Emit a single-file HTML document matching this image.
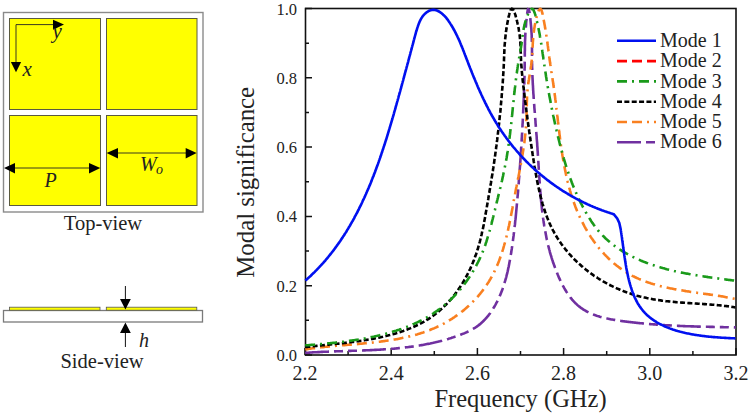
<!DOCTYPE html>
<html><head><meta charset="utf-8">
<style>
html,body{margin:0;padding:0;background:#fff;}
body{width:751px;height:415px;overflow:hidden;}
svg{display:block;}
text{font-family:"Liberation Serif",serif;fill:#222;}
.tl{font-size:20px;}
.yl{font-size:16.5px;}
.lg{font-size:20px;}
.ax{font-size:24.5px;}
.cap{font-size:20.5px;}
.it{font-style:italic;font-size:20px;}
</style></head><body>
<svg width="751" height="415" viewBox="0 0 751 415">
<!-- top view -->
<rect x="3.5" y="12.5" width="199.5" height="199.5" fill="none" stroke="#8a8a8a" stroke-width="1.4"/>
<g fill="#ffff00" stroke="#5a5a40" stroke-width="1">
<rect x="9.5" y="18.5" width="91" height="91"/>
<rect x="106.5" y="18.5" width="90.5" height="91"/>
<rect x="9.5" y="115.5" width="91" height="90"/>
<rect x="106.5" y="115.5" width="90.5" height="90"/>
</g>
<g stroke="#222" stroke-width="0.9" fill="none">
<path d="M16,24.6 H54 M16,24.6 V63"/>
<path d="M14,168 H90 M117,153 H186"/>
</g>
<g fill="#000">
<path d="M53,19.7 L64,24.6 L53,29.8 Z"/>
<path d="M10.9,62 L16,72.3 L21.1,62 Z"/>
<path d="M4,168 L15,162.9 L15,173.5 Z"/>
<path d="M100.3,168 L89,162.9 L89,173.5 Z"/>
<path d="M106.6,153 L118,147.9 L118,158.5 Z"/>
<path d="M196.6,153 L185.7,147.9 L185.7,158.5 Z"/>
</g>
<text x="52.5" y="38.3" class="it" style="font-size:21px">y</text>
<text x="22.5" y="75.8" class="it" style="font-size:21px">x</text>
<text x="44.5" y="186.5" class="it">P</text>
<text x="140" y="171" class="it">W</text>
<text x="156" y="173.8" class="it" style="font-size:14px">o</text>
<text x="103" y="230" text-anchor="middle" class="cap">Top-view</text>
<!-- side view -->
<rect x="3.5" y="310.5" width="199" height="11.5" fill="none" stroke="#7a7a7a" stroke-width="1.3"/>
<g fill="#ffff00" stroke="#555" stroke-width="0.8">
<rect x="9.5" y="307.2" width="90.5" height="3"/>
<rect x="106.3" y="307.2" width="90.5" height="3"/>
</g>
<path d="M125.4,286 V300 M125.4,333 V347" stroke="#111" stroke-width="1" fill="none"/>
<path d="M120,299 L130.8,299 L125.4,309.6 Z M120,333 L130.8,333 L125.4,322.6 Z" fill="#000"/>
<text x="139" y="347" class="it">h</text>
<text x="102" y="367.5" text-anchor="middle" class="cap">Side-view</text>
<!-- chart -->
<rect x="305.5" y="8.5" width="430.5" height="346.5" fill="none" stroke="#111" stroke-width="1.6"/>
<path d="M305.00,355.00 V348.00 M348.10,355.00 V351.00 M391.20,355.00 V348.00 M434.30,355.00 V351.00 M477.40,355.00 V348.00 M520.50,355.00 V351.00 M563.60,355.00 V348.00 M606.70,355.00 V351.00 M649.80,355.00 V348.00 M692.90,355.00 V351.00 M736.00,355.00 V348.00 M305.00,355.00 H312.00 M305.00,320.35 H309.00 M305.00,285.70 H312.00 M305.00,251.05 H309.00 M305.00,216.40 H312.00 M305.00,181.75 H309.00 M305.00,147.10 H312.00 M305.00,112.45 H309.00 M305.00,77.80 H312.00 M305.00,43.15 H309.00 M305.00,8.50 H312.00" stroke="#111" stroke-width="1.5" fill="none"/>
<text x="305.00" y="380" text-anchor="middle" class="tl">2.2</text><text x="391.20" y="380" text-anchor="middle" class="tl">2.4</text><text x="477.40" y="380" text-anchor="middle" class="tl">2.6</text><text x="563.60" y="380" text-anchor="middle" class="tl">2.8</text><text x="649.80" y="380" text-anchor="middle" class="tl">3.0</text><text x="736.00" y="380" text-anchor="middle" class="tl">3.2</text>
<text x="297" y="361.00" text-anchor="end" class="yl">0.0</text><text x="297" y="291.70" text-anchor="end" class="yl">0.2</text><text x="297" y="222.40" text-anchor="end" class="yl">0.4</text><text x="297" y="153.10" text-anchor="end" class="yl">0.6</text><text x="297" y="83.80" text-anchor="end" class="yl">0.8</text><text x="297" y="14.50" text-anchor="end" class="yl">1.0</text>
<text x="520.5" y="407" text-anchor="middle" class="ax">Frequency (GHz)</text>
<text transform="translate(253.5,182.3) rotate(-90)" text-anchor="middle" class="ax" style="font-size:24.8px">Modal significance</text>
<g fill="none" stroke-width="2.6">
<path d="M305.1,352.9 306.1,352.8 307.2,352.8 308.3,352.7 309.4,352.6 310.4,352.5 311.5,352.5 312.6,352.4 313.7,352.3 314.8,352.3 315.8,352.2 316.9,352.2 318.0,352.1 319.1,352.1 320.2,352.0 321.3,351.9 322.4,351.9 323.4,351.8 324.5,351.8 325.6,351.8 326.7,351.7 327.8,351.7 328.9,351.6 330.0,351.6 331.1,351.5 332.2,351.5 333.2,351.5 334.3,351.4 335.4,351.4 336.5,351.3 337.6,351.3 338.7,351.3 339.8,351.2 340.9,351.2 342.0,351.2 343.1,351.1 344.2,351.1 345.3,351.1 346.4,351.0 347.5,351.0 348.6,350.9 349.7,350.9 350.8,350.9 351.9,350.8 353.0,350.8 354.1,350.8 355.1,350.7 356.2,350.7 357.3,350.7 358.4,350.6 359.5,350.6 360.6,350.5 361.7,350.5 362.8,350.5 363.9,350.4 365.0,350.4 366.1,350.3 367.2,350.3 368.3,350.2 369.4,350.2 370.5,350.1 371.6,350.1 372.7,350.0 373.8,350.0 374.9,349.9 376.0,349.9 377.1,349.8 378.2,349.7 379.3,349.7 380.4,349.6 381.5,349.5 382.6,349.5 383.7,349.4 384.8,349.3 385.9,349.2 387.0,349.2 388.1,349.1 389.1,349.0 390.2,348.9 391.3,348.8 392.4,348.7 393.5,348.7 394.6,348.6 395.7,348.5 396.8,348.4 397.9,348.3 399.0,348.1 400.1,348.0 401.1,347.9 402.2,347.8 403.3,347.7 404.4,347.6 405.5,347.4 406.6,347.3 407.7,347.2 408.7,347.0 409.8,346.9 410.9,346.8 412.0,346.6 413.1,346.5 414.1,346.3 415.2,346.1 416.3,346.0 417.4,345.8 418.4,345.6 419.5,345.5 420.6,345.3 421.7,345.1 422.7,344.9 423.8,344.7 424.9,344.5 426.0,344.3 427.0,344.1 428.1,343.9 429.2,343.7 430.2,343.5 431.3,343.2 432.4,343.0 433.4,342.8 434.5,342.5 435.5,342.3 436.6,342.0 437.7,341.8 438.7,341.5 439.8,341.3 440.8,341.0 441.9,340.7 442.9,340.4 444.0,340.1 445.0,339.8 446.1,339.5 447.1,339.2 448.2,338.9 449.2,338.6 450.3,338.3 451.3,338.0 452.3,337.6 453.4,337.3 454.4,336.9 455.4,336.6 456.5,336.2 457.5,335.9 458.5,335.5 459.6,335.1 460.6,334.7 461.6,334.3 462.6,333.9 463.7,333.5 464.7,333.1 465.7,332.6 466.7,332.2 467.7,331.7 468.6,331.3 469.6,330.8 470.6,330.3 471.6,329.8 472.5,329.2 473.4,328.7 474.4,328.1 475.3,327.6 476.2,327.0 477.1,326.4 477.9,325.7 478.8,325.1 479.7,324.4 480.5,323.7 481.3,323.0 482.1,322.3 482.9,321.5 483.7,320.8 484.4,320.0 485.2,319.2 485.9,318.4 486.6,317.6 487.4,316.7 488.1,315.9 488.7,315.0 489.4,314.2 490.1,313.3 490.7,312.4 491.3,311.5 491.9,310.5 492.6,309.6 493.1,308.7 493.7,307.7 494.3,306.8 494.8,305.8 495.4,304.8 495.9,303.9 496.4,302.9 497.0,301.9 497.5,300.9 497.9,299.9 498.4,298.9 498.9,297.9 499.3,296.9 499.8,295.9 500.2,294.9 500.6,293.9 501.0,292.9 501.4,291.9 501.8,290.9 502.2,289.9 502.6,288.9 502.9,287.8 503.3,286.8 503.6,285.8 504.0,284.8 504.3,283.7 504.6,282.7 504.9,281.7 505.2,280.7 505.5,279.6 505.8,278.6 506.1,277.6 506.4,276.5 506.6,275.5 506.9,274.4 507.2,273.4 507.4,272.3 507.7,271.3 507.9,270.2 508.1,269.2 508.3,268.1 508.6,267.1 508.8,266.0 509.0,265.0 509.2,263.9 509.4,262.8 509.6,261.8 509.8,260.7 510.0,259.7 510.2,258.6 510.4,257.5 510.6,256.4 510.7,255.4 510.9,254.3 511.1,253.2 511.3,252.1 511.4,251.1 511.6,250.0 511.8,248.9 511.9,247.8 512.1,246.8 512.2,245.7 512.4,244.6 512.6,243.5 512.7,242.4 512.9,241.3 513.0,240.2 513.1,239.1 513.3,238.1 513.4,237.0 513.6,235.9 513.7,234.8 513.8,233.7 514.0,232.6 514.1,231.5 514.2,230.4 514.4,229.3 514.5,228.2 514.6,227.1 514.7,226.0 514.9,224.9 515.0,223.8 515.1,222.7 515.2,221.6 515.3,220.5 515.5,219.4 515.6,218.4 515.7,217.3 515.8,216.2 515.9,215.1 516.0,214.0 516.1,212.9 516.2,211.8 516.3,210.7 516.4,209.6 516.5,208.5 516.6,207.4 516.7,206.3 516.8,205.2 516.9,204.1 517.0,203.0 517.1,201.9 517.2,200.8 517.3,199.7 517.4,198.6 517.5,197.5 517.6,196.4 517.7,195.4 517.8,194.3 517.9,193.2 518.0,192.1 518.1,191.0 518.1,189.9 518.2,188.8 518.3,187.8 518.4,186.7 518.5,185.6 518.6,184.5 518.7,183.4 518.8,182.3 518.8,181.3 518.9,180.2 519.0,179.1 519.1,178.0 519.2,176.9 519.3,175.9 519.3,174.8 519.4,173.7 519.5,172.6 519.6,171.5 519.7,170.5 519.7,169.4 519.8,168.3 519.9,167.2 520.0,166.2 520.1,165.1 520.1,164.0 520.2,162.9 520.3,161.8 520.4,160.8 520.4,159.7 520.5,158.6 520.6,157.5 520.6,156.4 520.7,155.4 520.8,154.3 520.9,153.2 520.9,152.1 521.0,151.0 521.1,149.9 521.1,148.9 521.2,147.8 521.3,146.7 521.3,145.6 521.4,144.5 521.5,143.4 521.5,142.3 521.6,141.3 521.7,140.2 521.7,139.1 521.8,138.0 521.9,136.9 521.9,135.8 522.0,134.7 522.1,133.6 522.1,132.5 522.2,131.4 522.2,130.3 522.3,129.2 522.4,128.1 522.4,127.0 522.5,125.9 522.5,124.8 522.6,123.7 522.7,122.6 522.7,121.5 522.8,120.4 522.8,119.3 522.9,118.1 522.9,117.0 523.0,115.9 523.0,114.8 523.1,113.7 523.1,112.6 523.2,111.4 523.2,110.3 523.3,109.2 523.3,108.1 523.4,107.0 523.4,105.8 523.5,104.7 523.5,103.6 523.6,102.5 523.6,101.4 523.7,100.2 523.7,99.1 523.8,98.0 523.8,96.9 523.9,95.8 523.9,94.6 523.9,93.5 524.0,92.4 524.0,91.3 524.1,90.2 524.1,89.1 524.1,88.0 524.2,86.9 524.2,85.8 524.2,84.7 524.3,83.6 524.3,82.5 524.3,81.4 524.4,80.3 524.4,79.2 524.4,78.1 524.5,77.1 524.5,76.0 524.5,74.9 524.5,73.8 524.6,72.8 524.6,71.7 524.6,70.6 524.6,69.6 524.6,68.5 524.7,67.5 524.7,66.5 524.7,65.4 524.7,64.4 524.7,63.4 524.7,62.3 524.8,61.3 524.8,60.3 524.8,59.3 524.8,58.3 524.8,57.3 524.8,56.2 524.8,55.1 524.8,54.0 524.8,52.9 524.8,51.8 524.9,50.6 524.9,49.6 524.9,48.6 524.9,47.6 524.9,46.6 524.9,45.6 525.0,44.6 525.0,43.5 525.0,42.5 525.0,41.4 525.1,40.3 525.1,39.3 525.2,38.2 525.2,37.1 525.3,35.9 525.3,34.9 525.4,33.9 525.4,32.9 525.5,31.8 525.6,30.7 525.6,29.7 525.7,28.6 525.8,27.5 525.9,26.3 526.0,25.3 526.1,24.3 526.1,23.3 526.2,22.2 526.3,21.1 526.5,20.1 526.6,19.0 526.7,17.9 526.8,16.8 526.9,15.7 527.1,14.6 527.2,13.6 527.3,12.5 527.5,11.4 527.7,10.4 528.0,9.4 528.9,9.8 529.2,10.8 529.4,11.8 529.6,12.8 529.7,13.9 529.9,14.9 530.0,16.0 530.2,17.1 530.3,18.2 530.4,19.3 530.5,20.4 530.6,21.4 530.7,22.5 530.8,23.5 530.9,24.6 531.0,25.6 531.1,26.6 531.2,27.7 531.3,28.8 531.4,29.9 531.4,31.0 531.5,32.1 531.6,33.1 531.6,34.2 531.7,35.2 531.7,36.2 531.7,37.2 531.8,38.4 531.8,39.5 531.8,40.6 531.9,41.6 531.9,42.7 531.9,43.8 531.9,44.8 531.9,45.9 531.9,46.9 532.0,47.9 532.0,48.9 532.0,50.0 532.0,51.0 532.0,52.0 532.0,53.0 532.0,54.0 532.0,55.0 532.0,56.1 532.0,57.2 532.0,58.2 532.0,59.2 532.0,60.2 532.0,61.2 532.0,62.2 532.0,63.2 532.1,64.3 532.1,65.3 532.1,66.3 532.1,67.3 532.2,68.4 532.2,69.4 532.2,70.4 532.3,71.5 532.3,72.5 532.3,73.5 532.4,74.6 532.4,75.6 532.5,76.7 532.5,77.8 532.6,78.8 532.6,79.9 532.7,80.9 532.7,82.0 532.8,83.1 532.8,84.1 532.9,85.2 533.0,86.3 533.0,87.3 533.1,88.4 533.1,89.5 533.2,90.6 533.3,91.7 533.3,92.8 533.4,93.8 533.5,94.9 533.6,96.0 533.6,97.1 533.7,98.2 533.8,99.3 533.9,100.4 533.9,101.5 534.0,102.6 534.1,103.7 534.2,104.8 534.3,105.9 534.3,107.0 534.4,108.1 534.5,109.2 534.6,110.3 534.7,111.4 534.8,112.5 534.8,113.7 534.9,114.8 535.0,115.9 535.1,117.0 535.2,118.1 535.3,119.2 535.4,120.3 535.5,121.5 535.5,122.6 535.6,123.7 535.7,124.8 535.8,125.9 535.9,127.0 536.0,128.2 536.1,129.3 536.1,130.4 536.2,131.5 536.3,132.6 536.4,133.8 536.5,134.9 536.6,136.0 536.7,137.1 536.7,138.2 536.8,139.4 536.9,140.5 537.0,141.6 537.1,142.7 537.2,143.8 537.2,144.9 537.3,146.1 537.4,147.2 537.5,148.3 537.5,149.4 537.6,150.5 537.7,151.6 537.8,152.8 537.8,153.9 537.9,155.0 538.0,156.1 538.1,157.2 538.1,158.3 538.2,159.4 538.3,160.5 538.3,161.6 538.4,162.7 538.5,163.8 538.5,165.0 538.6,166.1 538.7,167.2 538.7,168.3 538.8,169.4 538.9,170.5 538.9,171.6 539.0,172.7 539.1,173.8 539.2,174.9 539.2,176.0 539.3,177.1 539.4,178.2 539.4,179.3 539.5,180.4 539.6,181.4 539.7,182.5 539.7,183.6 539.8,184.7 539.9,185.8 540.0,186.9 540.0,188.0 540.1,189.1 540.2,190.2 540.3,191.3 540.4,192.4 540.5,193.4 540.6,194.5 540.7,195.6 540.7,196.7 540.8,197.8 540.9,198.9 541.0,199.9 541.1,201.0 541.2,202.1 541.4,203.2 541.5,204.3 541.6,205.3 541.7,206.4 541.8,207.5 541.9,208.6 542.0,209.7 542.2,210.7 542.3,211.8 542.4,212.9 542.6,214.0 542.7,215.0 542.8,216.1 543.0,217.2 543.1,218.2 543.3,219.3 543.4,220.4 543.6,221.4 543.7,222.5 543.9,223.6 544.1,224.6 544.2,225.7 544.4,226.8 544.6,227.8 544.8,228.9 545.0,230.0 545.2,231.0 545.4,232.1 545.6,233.1 545.8,234.2 546.0,235.2 546.2,236.3 546.4,237.4 546.6,238.4 546.8,239.5 547.1,240.5 547.3,241.6 547.5,242.6 547.8,243.7 548.0,244.7 548.3,245.8 548.6,246.8 548.8,247.9 549.1,248.9 549.4,250.0 549.7,251.0 549.9,252.1 550.2,253.1 550.5,254.1 550.8,255.2 551.2,256.2 551.5,257.3 551.8,258.3 552.1,259.4 552.5,260.4 552.8,261.4 553.1,262.5 553.5,263.5 553.9,264.5 554.2,265.6 554.6,266.6 555.0,267.6 555.4,268.7 555.8,269.7 556.2,270.7 556.6,271.8 557.0,272.8 557.4,273.8 557.8,274.8 558.3,275.9 558.7,276.9 559.1,277.9 559.6,278.9 560.1,280.0 560.5,281.0 561.0,282.0 561.5,283.0 562.0,284.0 562.5,285.0 563.0,285.9 563.6,286.9 564.1,287.9 564.7,288.8 565.2,289.8 565.8,290.7 566.4,291.7 567.0,292.6 567.6,293.5 568.2,294.4 568.8,295.3 569.4,296.2 570.1,297.0 570.7,297.9 571.4,298.7 572.1,299.6 572.8,300.4 573.5,301.2 574.2,301.9 574.9,302.7 575.7,303.4 576.5,304.2 577.2,304.9 578.0,305.6 578.8,306.2 579.7,306.9 580.5,307.5 581.3,308.2 582.2,308.7 583.1,309.3 584.0,309.9 584.9,310.4 585.8,310.9 586.7,311.5 587.6,311.9 588.6,312.4 589.6,312.9 590.5,313.3 591.5,313.7 592.5,314.2 593.5,314.6 594.5,314.9 595.5,315.3 596.6,315.7 597.6,316.0 598.7,316.3 599.7,316.7 600.8,317.0 601.8,317.3 602.9,317.5 604.0,317.8 605.1,318.1 606.2,318.3 607.3,318.6 608.3,318.8 609.3,319.0 610.3,319.2 611.3,319.4 612.3,319.6 613.3,319.8 614.3,319.9 615.3,320.1 616.3,320.3 617.3,320.4 618.3,320.6 619.2,320.7 620.2,320.8 621.2,321.0 622.2,321.1 623.2,321.3 624.2,321.4 625.2,321.5 626.2,321.6 627.2,321.8 628.2,321.9 629.3,322.0 630.5,322.1 631.6,322.3 632.7,322.4 633.8,322.5 634.9,322.6 636.0,322.8 637.1,322.9 638.2,323.0 639.3,323.1 640.4,323.2 641.5,323.3 642.6,323.4 643.7,323.5 644.8,323.6 645.9,323.7 647.0,323.8 648.0,323.9 649.1,324.0 650.2,324.1 651.3,324.2 652.4,324.3 653.5,324.4 654.6,324.4 655.6,324.5 656.7,324.6 657.8,324.7 658.9,324.8 660.0,324.8 661.0,324.9 662.1,325.0 663.2,325.0 664.3,325.1 665.4,325.2 666.4,325.2 667.5,325.3 668.6,325.4 669.7,325.4 670.7,325.5 671.8,325.5 672.9,325.6 674.0,325.7 675.0,325.7 676.1,325.8 677.2,325.8 678.3,325.9 679.3,325.9 680.4,326.0 681.5,326.0 682.5,326.0 683.6,326.1 684.7,326.1 685.8,326.2 686.9,326.2 687.9,326.3 689.0,326.3 690.1,326.3 691.2,326.4 692.2,326.4 693.3,326.4 694.4,326.5 695.5,326.5 696.6,326.5 697.6,326.6 698.7,326.6 699.8,326.6 700.9,326.7 702.0,326.7 703.1,326.7 704.1,326.7 705.2,326.8 706.3,326.8 707.4,326.8 708.5,326.8 709.6,326.9 710.7,326.9 711.8,326.9 712.9,326.9 714.0,327.0 715.1,327.0 716.2,327.0 717.3,327.0 718.4,327.0 719.5,327.1 720.6,327.1 721.7,327.1 722.8,327.1 723.9,327.2 725.1,327.2 726.2,327.2 727.3,327.2 728.4,327.2 729.5,327.3 730.5,327.3 731.5,327.3 732.5,327.3 733.5,327.3 734.6,327.4 735.6,327.4 735.7,327.4" stroke="#7030a0" stroke-dasharray="24 5 9 5 9 5"/>
<path d="M305.2,349.4 306.3,349.2 307.3,349.1 308.3,348.9 309.4,348.8 310.4,348.6 311.5,348.5 312.5,348.3 313.6,348.2 314.7,348.1 315.7,347.9 316.8,347.8 317.9,347.7 318.9,347.5 320.0,347.4 321.1,347.3 322.2,347.2 323.2,347.1 324.3,346.9 325.4,346.8 326.5,346.7 327.6,346.6 328.7,346.5 329.8,346.4 330.8,346.3 331.9,346.2 333.0,346.1 334.1,346.0 335.2,345.9 336.3,345.8 337.4,345.7 338.5,345.6 339.6,345.5 340.7,345.4 341.9,345.3 342.8,345.2 343.8,345.2 344.8,345.1 345.8,345.0 346.8,344.9 347.8,344.8 348.8,344.7 349.8,344.7 350.9,344.6 351.9,344.5 352.9,344.4 353.9,344.3 354.9,344.2 355.9,344.1 356.9,344.1 357.9,344.0 358.9,343.9 359.9,343.8 360.9,343.7 361.9,343.6 362.9,343.5 363.9,343.4 364.9,343.3 365.9,343.2 366.9,343.1 368.0,343.0 369.0,342.9 370.0,342.8 371.0,342.7 372.0,342.6 373.0,342.5 374.0,342.4 375.0,342.3 376.0,342.1 377.0,342.0 378.0,341.9 379.0,341.8 380.0,341.7 381.0,341.5 382.0,341.4 383.0,341.3 384.0,341.1 385.0,341.0 386.0,340.8 387.0,340.7 388.0,340.5 389.0,340.4 390.0,340.2 391.0,340.1 392.0,339.9 393.0,339.8 394.0,339.6 395.0,339.4 395.9,339.2 396.9,339.1 397.9,338.9 398.9,338.7 399.9,338.5 400.9,338.3 401.9,338.1 403.0,337.8 404.1,337.6 405.2,337.4 406.3,337.1 407.4,336.9 408.4,336.6 409.5,336.4 410.6,336.1 411.6,335.8 412.7,335.5 413.8,335.3 414.8,335.0 415.9,334.7 417.0,334.4 418.0,334.1 419.1,333.7 420.1,333.4 421.2,333.1 422.2,332.7 423.2,332.4 424.3,332.0 425.3,331.7 426.3,331.3 427.4,330.9 428.4,330.5 429.4,330.2 430.4,329.8 431.5,329.3 432.5,328.9 433.5,328.5 434.5,328.1 435.5,327.6 436.5,327.2 437.5,326.7 438.5,326.3 439.4,325.8 440.4,325.3 441.4,324.8 442.4,324.3 443.3,323.8 444.3,323.3 445.3,322.7 446.2,322.2 447.2,321.7 448.1,321.1 449.1,320.5 450.0,320.0 450.9,319.4 451.9,318.8 452.8,318.2 453.7,317.6 454.6,317.0 455.5,316.3 456.4,315.7 457.3,315.1 458.2,314.4 459.1,313.8 460.0,313.1 460.9,312.4 461.7,311.7 462.6,311.1 463.5,310.4 464.3,309.7 465.2,308.9 466.0,308.2 466.8,307.5 467.6,306.8 468.5,306.0 469.3,305.3 470.1,304.5 470.9,303.8 471.7,303.0 472.4,302.2 473.2,301.4 474.0,300.6 474.8,299.8 475.5,299.0 476.2,298.2 477.0,297.4 477.7,296.6 478.4,295.8 479.1,294.9 479.9,294.1 480.5,293.2 481.2,292.4 481.9,291.5 482.6,290.7 483.2,289.8 483.9,288.9 484.5,288.0 485.2,287.1 485.8,286.2 486.4,285.3 487.0,284.4 487.6,283.5 488.2,282.6 488.8,281.7 489.4,280.7 489.9,279.8 490.5,278.9 491.0,277.9 491.6,277.0 492.1,276.0 492.6,275.1 493.1,274.1 493.6,273.1 494.1,272.1 494.6,271.2 495.0,270.2 495.5,269.2 495.9,268.2 496.4,267.2 496.8,266.2 497.3,265.2 497.7,264.2 498.1,263.2 498.5,262.2 498.9,261.2 499.3,260.1 499.7,259.1 500.1,258.1 500.4,257.0 500.8,256.0 501.2,255.0 501.5,253.9 501.9,252.9 502.2,251.8 502.5,250.8 502.9,249.7 503.2,248.7 503.5,247.6 503.8,246.5 504.1,245.5 504.4,244.4 504.7,243.3 505.0,242.4 505.3,241.4 505.5,240.4 505.8,239.5 506.0,238.5 506.3,237.5 506.5,236.6 506.7,235.6 507.0,234.6 507.2,233.6 507.4,232.6 507.7,231.7 507.9,230.7 508.1,229.7 508.3,228.7 508.5,227.7 508.7,226.7 509.0,225.8 509.2,224.8 509.4,223.8 509.6,222.8 509.8,221.8 510.0,220.8 510.2,219.8 510.4,218.8 510.6,217.8 510.8,216.8 511.0,215.9 511.1,214.9 511.3,213.9 511.5,212.9 511.7,211.9 511.9,210.9 512.1,209.9 512.3,208.9 512.5,207.9 512.6,206.9 512.8,205.9 513.0,205.0 513.2,204.0 513.4,203.0 513.6,202.0 513.7,201.0 513.9,200.0 514.1,199.0 514.3,198.0 514.5,197.1 514.7,196.1 514.9,195.0 515.1,193.9 515.3,192.8 515.5,191.7 515.7,190.6 515.9,189.5 516.1,188.5 516.3,187.4 516.6,186.3 516.8,185.2 517.0,184.1 517.2,183.1 517.4,182.0 517.6,180.9 517.8,179.8 518.0,178.8 518.2,177.7 518.5,176.6 518.7,175.5 518.9,174.5 519.1,173.4 519.3,172.3 519.5,171.2 519.7,170.2 519.9,169.1 520.1,168.0 520.3,167.0 520.5,165.9 520.7,164.8 520.9,163.7 521.1,162.7 521.3,161.6 521.5,160.5 521.7,159.5 521.9,158.4 522.0,157.3 522.2,156.2 522.4,155.2 522.6,154.1 522.8,153.0 522.9,151.9 523.1,150.9 523.3,149.8 523.4,148.7 523.6,147.6 523.8,146.6 523.9,145.5 524.1,144.4 524.2,143.3 524.4,142.2 524.5,141.2 524.6,140.1 524.8,139.0 524.9,137.9 525.0,136.8 525.1,135.7 525.3,134.6 525.4,133.5 525.5,132.4 525.6,131.4 525.7,130.3 525.8,129.2 525.9,128.1 525.9,127.0 526.0,125.9 526.1,124.7 526.2,123.6 526.2,122.5 526.3,121.5 526.3,120.5 526.4,119.5 526.4,118.5 526.5,117.5 526.5,116.5 526.5,115.5 526.5,114.5 526.6,113.5 526.6,112.5 526.6,111.5 526.6,110.4 526.7,109.4 526.7,108.4 526.7,107.4 526.7,106.4 526.8,105.4 526.8,104.4 526.8,103.3 526.8,102.3 526.9,101.3 526.9,100.3 527.0,99.3 527.0,98.3 527.0,97.2 527.1,96.2 527.2,95.2 527.2,94.2 527.3,93.2 527.4,92.2 527.5,91.2 527.5,90.2 527.6,89.2 527.8,88.1 527.9,87.1 528.0,86.1 528.1,85.1 528.2,84.1 528.4,83.1 528.5,82.1 528.7,81.1 528.8,80.2 529.0,79.2 529.1,78.1 529.3,77.0 529.5,75.9 529.7,74.8 529.9,73.7 530.0,72.6 530.2,71.6 530.4,70.5 530.5,69.4 530.7,68.4 530.9,67.3 531.0,66.2 531.2,65.2 531.3,64.1 531.5,63.1 531.6,62.1 531.7,61.0 531.8,60.0 531.9,59.0 532.0,58.0 532.1,56.9 532.2,55.9 532.2,54.9 532.3,53.9 532.3,52.9 532.4,51.9 532.4,50.9 532.5,49.9 532.5,48.8 532.6,47.8 532.6,46.8 532.7,45.8 532.7,44.7 532.8,43.7 532.8,42.6 532.9,41.6 533.0,40.5 533.1,39.4 533.1,38.3 533.2,37.2 533.3,36.2 533.4,35.2 533.5,34.1 533.6,33.1 533.8,32.0 533.9,31.0 534.1,29.9 534.2,28.8 534.4,27.8 534.6,26.8 534.7,25.8 534.9,24.7 535.1,23.7 535.3,22.6 535.6,21.6 535.8,20.5 536.1,19.4 536.3,18.4 536.5,17.4 536.8,16.4 537.1,15.4 537.4,14.3 537.7,13.3 538.1,12.3 538.4,11.3 538.9,10.3 539.4,9.5 540.2,8.8 541.0,9.4 541.5,10.4 541.9,11.4 542.1,12.4 542.4,13.4 542.7,14.5 542.9,15.5 543.1,16.6 543.3,17.7 543.5,18.7 543.7,19.9 543.9,21.0 544.1,22.0 544.3,23.1 544.5,24.2 544.7,25.2 544.9,26.2 545.0,27.3 545.2,28.2 545.4,29.4 545.6,30.5 545.7,31.5 545.9,32.6 546.1,33.6 546.2,34.7 546.4,35.7 546.5,36.7 546.7,37.7 546.8,38.8 547.0,39.9 547.1,41.0 547.3,42.0 547.4,43.1 547.6,44.1 547.7,45.2 547.9,46.2 548.0,47.2 548.1,48.2 548.3,49.2 548.4,50.2 548.5,51.2 548.7,52.2 548.8,53.2 548.9,54.2 549.1,55.2 549.2,56.2 549.3,57.2 549.5,58.2 549.6,59.3 549.7,60.3 549.9,61.3 550.0,62.3 550.2,63.3 550.3,64.4 550.5,65.4 550.6,66.5 550.8,67.5 551.0,68.6 551.1,69.6 551.3,70.7 551.4,71.7 551.6,72.8 551.8,73.9 551.9,74.9 552.1,76.0 552.3,77.1 552.4,78.2 552.6,79.3 552.7,80.3 552.9,81.4 553.1,82.5 553.2,83.6 553.4,84.7 553.5,85.8 553.7,86.9 553.9,88.0 554.0,89.1 554.2,90.2 554.3,91.3 554.4,92.3 554.6,93.3 554.7,94.3 554.8,95.3 555.0,96.3 555.1,97.3 555.2,98.2 555.3,99.2 555.5,100.2 555.6,101.2 555.7,102.2 555.8,103.2 556.0,104.2 556.1,105.2 556.2,106.2 556.3,107.2 556.4,108.2 556.5,109.2 556.7,110.2 556.8,111.2 556.9,112.2 557.0,113.2 557.1,114.2 557.2,115.2 557.4,116.2 557.5,117.2 557.6,118.2 557.7,119.2 557.8,120.2 557.9,121.2 558.1,122.2 558.2,123.2 558.3,124.2 558.4,125.2 558.5,126.2 558.7,127.2 558.8,128.2 558.9,129.2 559.0,130.3 559.1,131.3 559.3,132.3 559.4,133.3 559.5,134.3 559.6,135.3 559.8,136.3 559.9,137.3 560.0,138.3 560.1,139.3 560.3,140.3 560.4,141.2 560.5,142.2 560.7,143.2 560.8,144.2 560.9,145.2 561.1,146.2 561.2,147.2 561.4,148.2 561.5,149.2 561.7,150.2 561.8,151.2 562.0,152.2 562.1,153.2 562.3,154.2 562.4,155.2 562.6,156.2 562.8,157.2 562.9,158.1 563.1,159.1 563.2,160.1 563.4,161.1 563.6,162.1 563.8,163.1 564.0,164.2 564.2,165.3 564.4,166.4 564.6,167.4 564.8,168.5 565.0,169.6 565.2,170.7 565.5,171.8 565.7,172.9 565.9,174.0 566.1,175.0 566.4,176.1 566.6,177.2 566.9,178.3 567.1,179.3 567.4,180.4 567.6,181.5 567.9,182.6 568.2,183.6 568.4,184.7 568.7,185.8 569.0,186.8 569.3,187.9 569.6,188.9 569.9,190.0 570.2,191.1 570.5,192.1 570.8,193.2 571.1,194.2 571.5,195.3 571.8,196.3 572.1,197.4 572.5,198.4 572.8,199.4 573.2,200.5 573.5,201.5 573.9,202.5 574.3,203.6 574.6,204.6 575.0,205.6 575.4,206.7 575.8,207.7 576.2,208.7 576.6,209.7 577.0,210.7 577.5,211.8 577.9,212.8 578.3,213.8 578.8,214.8 579.2,215.8 579.7,216.8 580.1,217.8 580.6,218.8 581.1,219.8 581.6,220.8 582.1,221.8 582.6,222.7 583.1,223.7 583.6,224.7 584.1,225.7 584.6,226.6 585.2,227.6 585.7,228.6 586.3,229.5 586.8,230.5 587.4,231.4 588.0,232.4 588.5,233.3 589.1,234.3 589.7,235.2 590.3,236.1 590.9,237.1 591.5,238.0 592.2,238.9 592.8,239.8 593.4,240.7 594.1,241.6 594.7,242.5 595.4,243.4 596.0,244.3 596.7,245.1 597.4,246.0 598.1,246.9 598.7,247.7 599.4,248.6 600.1,249.4 600.9,250.3 601.6,251.1 602.3,251.9 603.0,252.7 603.8,253.5 604.5,254.3 605.3,255.1 606.0,255.9 606.8,256.7 607.6,257.5 608.3,258.3 609.1,259.0 609.9,259.8 610.7,260.5 611.5,261.2 612.3,262.0 613.2,262.7 614.0,263.4 614.8,264.1 615.7,264.8 616.5,265.5 617.4,266.1 618.2,266.8 619.1,267.4 620.0,268.1 620.8,268.7 621.7,269.3 622.6,270.0 623.5,270.6 624.4,271.2 625.3,271.7 626.3,272.3 627.2,272.9 628.1,273.4 629.1,274.0 630.0,274.5 631.0,275.0 631.9,275.6 632.9,276.1 633.9,276.5 634.8,277.0 635.8,277.5 636.8,278.0 637.8,278.4 638.8,278.9 639.8,279.3 640.8,279.7 641.8,280.1 642.9,280.5 643.9,280.9 644.9,281.3 646.0,281.7 647.0,282.1 648.1,282.4 649.1,282.8 650.2,283.1 651.1,283.4 652.1,283.7 653.0,284.0 654.0,284.3 655.0,284.6 655.9,284.9 656.9,285.1 657.9,285.4 658.8,285.7 659.8,285.9 660.8,286.2 661.8,286.4 662.8,286.6 663.8,286.9 664.8,287.1 665.7,287.3 666.7,287.6 667.7,287.8 668.7,288.0 669.7,288.2 670.7,288.4 671.7,288.6 672.7,288.8 673.7,289.0 674.7,289.2 675.8,289.4 676.8,289.6 677.8,289.7 678.8,289.9 679.8,290.1 680.8,290.3 681.8,290.4 682.8,290.6 683.8,290.8 684.8,290.9 685.8,291.1 686.9,291.2 687.9,291.4 688.9,291.5 689.9,291.7 690.9,291.9 691.9,292.0 692.9,292.1 693.9,292.3 694.9,292.4 695.9,292.6 697.0,292.7 698.0,292.9 699.0,293.0 700.0,293.2 701.0,293.3 702.0,293.4 703.0,293.6 704.0,293.7 705.0,293.9 706.0,294.0 706.9,294.1 707.9,294.3 709.0,294.4 710.1,294.6 711.2,294.8 712.3,294.9 713.4,295.1 714.5,295.2 715.6,295.4 716.6,295.6 717.7,295.7 718.8,295.9 719.8,296.1 720.9,296.3 722.0,296.4 723.0,296.6 724.1,296.8 725.1,297.0 726.2,297.2 727.2,297.4 728.2,297.6 729.2,297.8 730.3,298.0 731.3,298.2 732.3,298.4 733.3,298.6 734.3,298.8 735.3,299.0" stroke="#f98020" stroke-dasharray="10 5 10 5 2 5"/>
<path d="M305.3,347.2 306.4,347.0 307.4,346.9 308.4,346.8 309.4,346.7 310.4,346.6 311.5,346.4 312.5,346.3 313.6,346.2 314.6,346.1 315.6,346.0 316.7,345.9 317.8,345.8 318.8,345.6 319.9,345.5 321.0,345.4 322.0,345.3 323.1,345.2 324.2,345.1 325.3,345.0 326.4,344.9 327.5,344.8 328.6,344.6 329.7,344.5 330.8,344.4 331.9,344.3 332.9,344.2 333.9,344.1 334.9,344.0 335.9,343.9 336.9,343.8 337.9,343.7 338.9,343.6 339.9,343.5 340.9,343.3 341.9,343.2 342.9,343.1 344.0,343.0 345.0,342.9 346.0,342.8 347.0,342.6 348.0,342.5 349.0,342.4 350.1,342.3 351.1,342.1 352.1,342.0 353.1,341.9 354.2,341.7 355.2,341.6 356.2,341.5 357.2,341.3 358.3,341.2 359.3,341.0 360.3,340.9 361.3,340.7 362.4,340.6 363.4,340.4 364.4,340.3 365.4,340.1 366.5,339.9 367.5,339.8 368.5,339.6 369.5,339.4 370.6,339.2 371.6,339.0 372.6,338.9 373.6,338.7 374.6,338.5 375.7,338.3 376.7,338.1 377.7,337.9 378.7,337.7 379.7,337.4 380.7,337.2 381.7,337.0 382.7,336.8 383.8,336.5 384.8,336.3 385.8,336.1 386.8,335.8 387.8,335.6 388.8,335.3 389.7,335.1 390.7,334.8 391.7,334.5 392.7,334.3 393.7,334.0 394.7,333.7 395.7,333.4 396.6,333.1 397.6,332.8 398.6,332.5 399.5,332.2 400.5,331.9 401.5,331.6 402.4,331.2 403.4,330.9 404.3,330.6 405.3,330.2 406.2,329.9 407.2,329.5 408.1,329.1 409.0,328.8 410.0,328.4 410.9,328.0 411.8,327.6 412.8,327.2 413.9,326.7 414.9,326.3 415.9,325.8 416.9,325.3 417.9,324.9 418.8,324.4 419.8,323.9 420.8,323.4 421.8,322.8 422.7,322.3 423.7,321.8 424.6,321.2 425.6,320.7 426.5,320.1 427.4,319.5 428.4,319.0 429.3,318.4 430.2,317.8 431.1,317.2 432.0,316.5 432.9,315.9 433.8,315.3 434.6,314.6 435.5,313.9 436.4,313.3 437.2,312.6 438.1,311.9 438.9,311.2 439.7,310.5 440.5,309.8 441.4,309.0 442.2,308.3 443.0,307.6 443.8,306.8 444.5,306.0 445.3,305.3 446.1,304.5 446.9,303.7 447.6,302.9 448.4,302.1 449.1,301.3 449.8,300.4 450.6,299.6 451.3,298.8 452.0,297.9 452.7,297.1 453.4,296.2 454.1,295.3 454.8,294.5 455.4,293.6 456.1,292.7 456.7,291.9 457.3,291.1 457.9,290.3 458.4,289.4 459.0,288.6 459.6,287.8 460.1,286.9 460.7,286.1 461.2,285.3 461.7,284.4 462.3,283.5 462.8,282.7 463.3,281.8 463.8,281.0 464.3,280.1 464.9,279.2 465.3,278.3 465.8,277.4 466.3,276.5 466.8,275.6 467.3,274.7 467.7,273.8 468.2,272.9 468.6,272.0 469.1,271.1 469.5,270.2 470.0,269.3 470.4,268.4 470.8,267.4 471.2,266.5 471.6,265.6 472.0,264.6 472.4,263.7 472.8,262.8 473.2,261.8 473.6,260.9 474.0,259.9 474.3,259.0 474.7,258.0 475.0,257.0 475.4,256.1 475.7,255.1 476.1,254.2 476.4,253.2 476.7,252.2 477.0,251.3 477.3,250.3 477.7,249.3 478.0,248.4 478.2,247.4 478.5,246.4 478.8,245.4 479.1,244.4 479.4,243.5 479.6,242.5 479.9,241.5 480.1,240.5 480.4,239.5 480.6,238.5 480.9,237.6 481.1,236.6 481.3,235.6 481.6,234.6 481.8,233.6 482.0,232.6 482.2,231.6 482.4,230.6 482.7,229.7 482.9,228.7 483.1,227.7 483.3,226.7 483.5,225.7 483.7,224.7 483.8,223.7 484.0,222.7 484.2,221.7 484.4,220.7 484.6,219.7 484.8,218.7 485.0,217.8 485.1,216.8 485.3,215.8 485.5,214.8 485.7,213.8 485.8,212.8 486.0,211.8 486.2,210.8 486.4,209.8 486.6,208.7 486.8,207.6 486.9,206.5 487.1,205.4 487.3,204.3 487.5,203.2 487.7,202.1 487.9,201.0 488.1,200.0 488.3,198.9 488.4,197.8 488.6,196.7 488.8,195.6 489.0,194.5 489.2,193.5 489.4,192.4 489.5,191.3 489.7,190.2 489.9,189.1 490.1,188.1 490.3,187.0 490.4,185.9 490.6,184.8 490.8,183.7 491.0,182.7 491.1,181.6 491.3,180.5 491.5,179.4 491.7,178.3 491.8,177.2 492.0,176.2 492.2,175.1 492.4,174.0 492.5,172.9 492.7,171.8 492.9,170.7 493.0,169.6 493.2,168.5 493.4,167.4 493.5,166.3 493.7,165.2 493.9,164.2 494.0,163.1 494.2,162.1 494.3,161.1 494.4,160.1 494.6,159.1 494.7,158.1 494.9,157.1 495.0,156.1 495.2,155.1 495.3,154.1 495.4,153.1 495.6,152.1 495.7,151.1 495.8,150.1 496.0,149.1 496.1,148.1 496.2,147.0 496.4,146.0 496.5,145.0 496.6,144.0 496.8,143.0 496.9,141.9 497.0,140.9 497.2,139.9 497.3,138.9 497.4,137.9 497.5,136.8 497.7,135.8 497.8,134.8 497.9,133.7 498.0,132.7 498.1,131.7 498.3,130.6 498.4,129.6 498.5,128.6 498.6,127.5 498.7,126.5 498.8,125.5 499.0,124.4 499.1,123.4 499.2,122.4 499.3,121.3 499.4,120.3 499.5,119.3 499.6,118.2 499.7,117.2 499.8,116.2 499.9,115.1 500.0,114.1 500.1,113.1 500.3,112.0 500.4,111.0 500.5,110.0 500.6,108.9 500.6,107.9 500.7,106.9 500.8,105.9 500.9,104.8 501.0,103.8 501.1,102.8 501.2,101.7 501.3,100.7 501.4,99.7 501.5,98.7 501.6,97.7 501.7,96.6 501.7,95.6 501.8,94.6 501.9,93.6 502.0,92.6 502.1,91.6 502.1,90.6 502.2,89.6 502.3,88.6 502.4,87.6 502.4,86.6 502.5,85.6 502.6,84.5 502.7,83.4 502.8,82.3 502.8,81.2 502.9,80.1 503.0,79.0 503.0,77.9 503.1,76.8 503.2,75.7 503.2,74.6 503.3,73.6 503.4,72.5 503.4,71.4 503.5,70.4 503.6,69.3 503.6,68.2 503.7,67.2 503.7,66.1 503.8,65.1 503.8,64.1 503.9,63.0 503.9,62.0 504.0,61.0 504.0,60.0 504.0,58.9 504.1,57.9 504.1,56.9 504.2,55.9 504.2,54.9 504.2,53.9 504.3,52.9 504.3,51.9 504.4,50.9 504.4,49.8 504.5,48.8 504.5,47.8 504.6,46.8 504.6,45.7 504.7,44.7 504.8,43.6 504.9,42.6 505.0,41.5 505.1,40.4 505.2,39.3 505.2,38.3 505.4,37.3 505.5,36.3 505.6,35.2 505.7,34.2 505.8,33.1 506.0,32.0 506.1,30.9 506.3,29.8 506.5,28.8 506.6,27.8 506.8,26.8 507.0,25.7 507.1,24.7 507.3,23.6 507.5,22.5 507.7,21.4 507.9,20.4 508.1,19.4 508.3,18.4 508.5,17.4 508.8,16.4 509.0,15.4 509.3,14.3 509.5,13.3 509.8,12.3 510.2,11.3 510.5,10.4 511.0,9.5 511.8,8.8 512.8,9.1 513.4,10.0 513.9,10.9 514.3,11.8 514.7,12.9 515.0,13.9 515.4,14.9 515.6,15.9 515.9,16.9 516.2,17.9 516.5,18.9 516.7,19.9 517.0,20.9 517.2,22.0 517.5,23.1 517.7,24.1 518.0,25.2 518.2,26.2 518.4,27.3 518.6,28.3 518.8,29.3 518.9,30.4 519.1,31.5 519.3,32.5 519.4,33.6 519.6,34.6 519.7,35.7 519.8,36.7 519.9,37.7 520.0,38.8 520.1,39.9 520.2,40.9 520.3,42.0 520.4,43.1 520.4,44.1 520.5,45.1 520.5,46.2 520.6,47.2 520.6,48.2 520.6,49.2 520.7,50.2 520.7,51.3 520.7,52.3 520.8,53.3 520.8,54.3 520.8,55.3 520.9,56.3 520.9,57.4 521.0,58.4 521.0,59.4 521.0,60.5 521.1,61.5 521.2,62.6 521.2,63.7 521.3,64.8 521.4,65.8 521.5,66.9 521.6,68.0 521.6,69.1 521.7,70.1 521.8,71.1 521.9,72.1 522.0,73.2 522.1,74.2 522.2,75.2 522.3,76.2 522.4,77.2 522.5,78.2 522.6,79.3 522.7,80.3 522.8,81.3 523.0,82.3 523.1,83.4 523.2,84.4 523.3,85.4 523.4,86.4 523.5,87.5 523.7,88.5 523.8,89.5 523.9,90.5 524.0,91.6 524.1,92.6 524.3,93.6 524.4,94.6 524.5,95.6 524.6,96.6 524.7,97.6 524.9,98.6 525.0,99.6 525.1,100.7 525.2,101.7 525.4,102.7 525.5,103.7 525.6,104.7 525.7,105.7 525.9,106.7 526.0,107.6 526.1,108.6 526.3,109.6 526.4,110.6 526.5,111.7 526.7,112.8 526.8,113.9 527.0,115.0 527.1,116.1 527.3,117.2 527.4,118.3 527.5,119.4 527.7,120.5 527.8,121.6 528.0,122.7 528.1,123.8 528.3,124.9 528.4,126.0 528.6,127.1 528.7,128.1 528.9,129.2 529.1,130.3 529.2,131.4 529.4,132.5 529.5,133.6 529.7,134.7 529.8,135.8 530.0,136.9 530.2,137.9 530.3,139.0 530.5,140.1 530.6,141.2 530.8,142.3 531.0,143.4 531.1,144.5 531.3,145.6 531.5,146.7 531.6,147.8 531.8,148.9 532.0,150.0 532.1,151.1 532.3,152.2 532.5,153.3 532.6,154.2 532.8,155.2 532.9,156.2 533.1,157.2 533.2,158.2 533.4,159.2 533.6,160.2 533.7,161.2 533.9,162.2 534.0,163.2 534.2,164.2 534.4,165.2 534.5,166.2 534.7,167.2 534.9,168.2 535.0,169.2 535.2,170.2 535.4,171.2 535.5,172.2 535.7,173.2 535.9,174.2 536.1,175.2 536.3,176.2 536.4,177.2 536.6,178.2 536.8,179.2 537.0,180.2 537.2,181.2 537.4,182.2 537.6,183.2 537.8,184.2 538.0,185.2 538.2,186.2 538.4,187.2 538.7,188.2 538.9,189.2 539.1,190.2 539.3,191.2 539.6,192.2 539.8,193.2 540.0,194.2 540.3,195.2 540.5,196.1 540.8,197.1 541.0,198.1 541.3,199.1 541.5,200.1 541.8,201.1 542.1,202.0 542.4,203.0 542.6,204.0 542.9,205.0 543.2,205.9 543.5,206.9 543.8,207.8 544.1,208.8 544.4,209.8 544.8,210.7 545.1,211.7 545.4,212.6 545.7,213.6 546.1,214.5 546.4,215.5 546.8,216.4 547.1,217.3 547.5,218.3 547.9,219.2 548.3,220.2 548.7,221.2 549.2,222.3 549.6,223.3 550.1,224.3 550.5,225.3 551.0,226.3 551.5,227.3 552.0,228.3 552.5,229.3 553.0,230.3 553.5,231.2 554.0,232.2 554.5,233.2 555.1,234.1 555.6,235.1 556.2,236.0 556.8,237.0 557.3,237.9 557.9,238.8 558.5,239.8 559.1,240.7 559.7,241.6 560.4,242.5 561.0,243.4 561.6,244.3 562.3,245.2 562.9,246.1 563.6,247.0 564.3,247.8 565.0,248.7 565.7,249.6 566.4,250.4 567.1,251.3 567.8,252.1 568.5,253.0 569.2,253.8 570.0,254.6 570.7,255.4 571.5,256.3 572.2,257.1 573.0,257.9 573.7,258.7 574.5,259.5 575.3,260.2 576.1,261.0 576.9,261.8 577.7,262.5 578.5,263.3 579.3,264.0 580.0,264.6 580.8,265.3 581.5,266.0 582.3,266.6 583.0,267.3 583.8,267.9 584.6,268.6 585.4,269.2 586.1,269.8 586.9,270.4 587.7,271.0 588.5,271.7 589.3,272.3 590.1,272.9 590.9,273.5 591.8,274.0 592.6,274.6 593.4,275.2 594.2,275.8 595.1,276.3 595.9,276.9 596.8,277.4 597.6,278.0 598.4,278.5 599.3,279.1 600.2,279.6 601.0,280.1 601.9,280.6 602.8,281.2 603.6,281.7 604.5,282.2 605.4,282.7 606.3,283.1 607.2,283.6 608.0,284.1 608.9,284.6 609.8,285.0 610.7,285.5 611.6,285.9 612.6,286.4 613.5,286.8 614.4,287.2 615.3,287.7 616.2,288.1 617.1,288.5 618.1,288.9 619.0,289.3 619.9,289.7 620.8,290.1 621.8,290.5 622.7,290.9 623.7,291.2 624.6,291.6 625.5,291.9 626.5,292.3 627.4,292.6 628.4,293.0 629.3,293.3 630.3,293.6 631.3,293.9 632.2,294.2 633.2,294.5 634.1,294.8 635.1,295.1 636.1,295.4 637.0,295.7 638.0,295.9 639.0,296.2 640.0,296.5 640.9,296.7 641.9,296.9 642.9,297.2 643.9,297.4 644.9,297.6 645.8,297.8 646.8,298.1 647.8,298.3 648.8,298.5 649.8,298.6 650.8,298.8 651.8,299.0 652.8,299.2 653.7,299.4 654.7,299.5 655.7,299.7 656.7,299.8 657.7,300.0 658.7,300.1 659.7,300.3 660.7,300.4 661.7,300.6 662.7,300.7 663.7,300.8 664.7,300.9 665.7,301.1 666.7,301.2 667.7,301.3 668.7,301.4 669.7,301.5 670.7,301.6 671.8,301.7 672.8,301.8 673.8,301.9 674.8,302.0 675.8,302.1 676.8,302.2 677.8,302.2 678.8,302.3 679.8,302.4 680.8,302.5 681.8,302.6 682.9,302.6 683.9,302.7 684.9,302.8 685.9,302.9 686.9,302.9 687.9,303.0 688.9,303.1 689.9,303.1 690.9,303.2 691.9,303.3 693.0,303.3 694.0,303.4 695.0,303.5 696.0,303.5 697.0,303.6 698.0,303.7 699.0,303.7 700.0,303.8 701.0,303.9 702.0,303.9 703.1,304.0 704.1,304.1 705.1,304.1 706.1,304.2 707.1,304.3 708.1,304.4 709.1,304.4 710.1,304.5 711.1,304.6 712.1,304.7 713.1,304.7 714.1,304.8 715.1,304.9 716.1,305.0 717.1,305.1 718.1,305.2 719.1,305.3 720.1,305.4 721.1,305.5 722.2,305.6 723.3,305.7 724.4,305.9 725.5,306.0 726.6,306.1 727.7,306.3 728.8,306.4 729.9,306.6 731.0,306.7 732.1,306.9 733.2,307.0 734.3,307.2 735.3,307.4 735.4,307.4" stroke="#000" stroke-dasharray="5 2.36"/>
<path d="M305.2,345.4 306.2,345.3 307.2,345.2 308.2,345.2 309.2,345.1 310.2,345.0 311.2,344.9 312.2,344.8 313.3,344.7 314.3,344.7 315.3,344.6 316.3,344.5 317.4,344.4 318.4,344.3 319.4,344.2 320.5,344.1 321.5,344.0 322.5,343.9 323.6,343.8 324.6,343.7 325.7,343.6 326.7,343.5 327.8,343.4 328.8,343.3 329.9,343.2 330.9,343.1 332.0,343.0 333.0,342.9 334.1,342.8 335.1,342.7 336.2,342.5 337.2,342.4 338.3,342.3 339.3,342.2 340.4,342.0 341.5,341.9 342.5,341.8 343.6,341.7 344.6,341.5 345.7,341.4 346.8,341.2 347.8,341.1 348.9,340.9 350.0,340.8 351.0,340.6 352.1,340.5 353.1,340.3 354.2,340.2 355.3,340.0 356.3,339.8 357.4,339.7 358.5,339.5 359.5,339.3 360.6,339.1 361.6,339.0 362.7,338.8 363.8,338.6 364.8,338.4 365.9,338.2 366.9,338.0 368.0,337.8 369.1,337.6 370.1,337.4 371.2,337.1 372.2,336.9 373.3,336.7 374.3,336.5 375.4,336.2 376.4,336.0 377.5,335.8 378.5,335.5 379.6,335.3 380.6,335.0 381.7,334.8 382.7,334.5 383.7,334.2 384.8,334.0 385.8,333.7 386.8,333.4 387.9,333.1 388.9,332.8 389.9,332.5 391.0,332.2 392.0,331.9 393.0,331.6 394.0,331.3 395.0,331.0 396.1,330.7 397.1,330.3 398.1,330.0 399.1,329.7 400.1,329.3 401.1,329.0 402.1,328.6 403.1,328.3 404.1,327.9 405.1,327.5 406.1,327.1 407.0,326.8 408.0,326.4 409.0,326.0 410.0,325.6 411.0,325.2 411.9,324.8 412.9,324.3 413.9,323.9 414.8,323.5 415.8,323.0 416.7,322.6 417.7,322.1 418.6,321.7 419.6,321.2 420.5,320.8 421.4,320.3 422.3,319.8 423.3,319.3 424.2,318.8 425.1,318.3 426.0,317.8 426.9,317.3 427.8,316.8 428.7,316.2 429.6,315.7 430.5,315.2 431.4,314.6 432.3,314.1 433.2,313.5 434.0,312.9 434.9,312.3 435.8,311.7 436.6,311.2 437.5,310.6 438.3,309.9 439.2,309.3 440.0,308.7 440.8,308.1 441.7,307.4 442.5,306.8 443.3,306.1 444.1,305.5 444.9,304.8 445.7,304.1 446.5,303.4 447.3,302.7 448.1,302.0 448.9,301.3 449.6,300.6 450.4,299.9 451.2,299.2 451.9,298.4 452.7,297.7 453.4,296.9 454.2,296.2 454.9,295.4 455.6,294.6 456.3,293.8 457.1,293.1 457.8,292.3 458.5,291.5 459.2,290.7 459.8,289.9 460.5,289.1 461.2,288.2 461.9,287.4 462.5,286.6 463.2,285.7 463.9,284.9 464.5,284.0 465.1,283.2 465.8,282.3 466.4,281.5 467.0,280.6 467.6,279.7 468.2,278.8 468.8,278.0 469.4,277.1 470.0,276.2 470.6,275.3 471.2,274.4 471.7,273.5 472.3,272.6 472.8,271.6 473.4,270.7 473.9,269.8 474.5,268.9 475.0,267.9 475.5,267.0 476.0,266.1 476.5,265.1 477.0,264.2 477.5,263.2 478.0,262.3 478.4,261.3 478.9,260.4 479.4,259.4 479.8,258.4 480.3,257.5 480.7,256.5 481.1,255.5 481.5,254.6 482.0,253.6 482.4,252.6 482.8,251.6 483.2,250.6 483.5,249.7 483.9,248.7 484.3,247.7 484.6,246.7 485.0,245.7 485.4,244.7 485.7,243.7 486.0,242.7 486.4,241.7 486.7,240.7 487.0,239.7 487.3,238.7 487.6,237.7 487.9,236.7 488.2,235.7 488.5,234.7 488.8,233.6 489.1,232.6 489.4,231.6 489.7,230.6 490.0,229.6 490.2,228.6 490.5,227.5 490.8,226.5 491.0,225.5 491.3,224.5 491.6,223.5 491.8,222.4 492.1,221.4 492.3,220.4 492.6,219.4 492.9,218.3 493.1,217.3 493.4,216.3 493.6,215.3 493.9,214.2 494.1,213.2 494.4,212.2 494.6,211.1 494.9,210.1 495.1,209.1 495.4,208.1 495.6,207.0 495.9,206.0 496.1,205.0 496.4,204.0 496.6,202.9 496.9,201.9 497.1,200.9 497.4,199.8 497.6,198.8 497.9,197.8 498.1,196.8 498.4,195.7 498.6,194.7 498.9,193.7 499.1,192.6 499.4,191.6 499.6,190.6 499.9,189.6 500.1,188.5 500.4,187.5 500.6,186.5 500.9,185.4 501.1,184.4 501.3,183.4 501.6,182.3 501.8,181.3 502.1,180.3 502.3,179.2 502.5,178.2 502.7,177.2 503.0,176.1 503.2,175.1 503.4,174.1 503.6,173.0 503.9,172.0 504.1,171.0 504.3,169.9 504.5,168.9 504.7,167.8 504.9,166.8 505.1,165.8 505.3,164.7 505.5,163.7 505.7,162.7 505.9,161.6 506.1,160.6 506.3,159.5 506.5,158.5 506.7,157.4 506.8,156.4 507.0,155.4 507.2,154.3 507.3,153.3 507.5,152.2 507.7,151.2 507.8,150.1 508.0,149.1 508.2,148.0 508.3,147.0 508.5,145.9 508.6,144.9 508.7,143.8 508.9,142.8 509.0,141.7 509.2,140.7 509.3,139.6 509.4,138.6 509.6,137.5 509.7,136.5 509.8,135.4 510.0,134.4 510.1,133.3 510.2,132.3 510.3,131.2 510.5,130.1 510.6,129.1 510.7,128.0 510.8,127.0 510.9,125.9 511.1,124.9 511.2,123.8 511.3,122.8 511.4,121.7 511.5,120.6 511.6,119.6 511.7,118.5 511.8,117.5 511.9,116.4 512.1,115.4 512.2,114.3 512.3,113.3 512.4,112.2 512.5,111.1 512.6,110.1 512.7,109.0 512.8,108.0 512.9,106.9 513.0,105.9 513.1,104.8 513.2,103.8 513.4,102.7 513.5,101.6 513.6,100.6 513.7,99.5 513.8,98.5 513.9,97.4 514.0,96.4 514.1,95.3 514.2,94.3 514.3,93.2 514.5,92.1 514.6,91.1 514.7,90.0 514.8,89.0 514.9,87.9 515.1,86.9 515.2,85.8 515.3,84.8 515.4,83.7 515.5,82.7 515.7,81.6 515.8,80.6 515.9,79.5 516.1,78.5 516.2,77.4 516.3,76.4 516.5,75.3 516.6,74.3 516.8,73.2 516.9,72.2 517.1,71.1 517.2,70.1 517.4,69.0 517.5,68.0 517.7,66.9 517.8,65.9 518.0,64.9 518.1,63.8 518.3,62.8 518.5,61.7 518.7,60.7 518.8,59.6 519.0,58.6 519.2,57.6 519.4,56.5 519.6,55.5 519.7,54.5 519.9,53.4 520.1,52.4 520.3,51.4 520.5,50.3 520.6,49.3 520.8,48.3 521.0,47.3 521.1,46.2 521.3,45.2 521.5,44.2 521.6,43.2 521.7,42.2 521.9,41.2 522.0,40.2 522.1,39.2 522.3,38.2 522.4,37.1 522.5,36.1 522.7,35.1 522.8,34.1 523.0,33.0 523.1,32.0 523.3,30.9 523.5,29.8 523.7,28.8 523.9,27.8 524.1,26.8 524.3,25.8 524.6,24.7 524.8,23.7 525.1,22.6 525.4,21.6 525.7,20.6 526.0,19.6 526.4,18.6 526.7,17.6 527.1,16.6 527.4,15.6 527.8,14.7 528.2,13.7 528.7,12.7 529.1,11.8 529.7,10.9 530.2,10.1 530.9,9.3 531.8,8.9 532.8,9.2 533.5,10.0 533.9,10.9 534.3,11.9 534.7,12.9 535.0,13.9 535.4,15.0 535.6,16.0 535.9,17.0 536.1,18.1 536.4,19.1 536.6,20.1 536.9,21.2 537.1,22.2 537.3,23.2 537.6,24.2 537.8,25.3 538.0,26.3 538.2,27.4 538.5,28.5 538.7,29.5 538.9,30.5 539.1,31.5 539.3,32.6 539.5,33.6 539.7,34.5 539.9,35.6 540.0,36.7 540.2,37.8 540.4,38.8 540.6,39.9 540.8,40.9 540.9,41.9 541.1,42.9 541.3,43.9 541.4,44.9 541.6,45.9 541.7,46.9 541.9,48.0 542.0,49.1 542.2,50.2 542.3,51.2 542.5,52.3 542.6,53.4 542.8,54.4 542.9,55.5 543.1,56.6 543.3,57.6 543.4,58.7 543.6,59.8 543.7,60.8 543.9,61.9 544.0,63.0 544.2,64.1 544.3,65.1 544.5,66.1 544.6,67.1 544.8,68.1 544.9,69.1 545.1,70.1 545.2,71.1 545.4,72.1 545.6,73.1 545.7,74.1 545.9,75.1 546.0,76.2 546.2,77.2 546.4,78.2 546.5,79.2 546.7,80.3 546.9,81.3 547.0,82.3 547.2,83.3 547.4,84.4 547.6,85.4 547.7,86.5 547.9,87.5 548.1,88.5 548.3,89.6 548.5,90.6 548.6,91.7 548.8,92.7 549.0,93.8 549.2,94.8 549.4,95.9 549.6,96.9 549.8,98.0 550.0,99.0 550.2,100.1 550.4,101.1 550.6,102.2 550.8,103.2 551.0,104.3 551.2,105.4 551.4,106.4 551.6,107.5 551.8,108.5 552.0,109.6 552.2,110.7 552.5,111.7 552.7,112.8 552.9,113.8 553.1,114.9 553.3,116.0 553.6,117.0 553.8,118.1 554.0,119.1 554.2,120.2 554.5,121.3 554.7,122.3 554.9,123.4 555.2,124.4 555.4,125.5 555.6,126.6 555.9,127.6 556.1,128.7 556.4,129.7 556.6,130.8 556.9,131.8 557.1,132.9 557.4,133.9 557.6,135.0 557.9,136.1 558.1,137.1 558.4,138.1 558.6,139.2 558.9,140.2 559.2,141.3 559.4,142.3 559.7,143.4 559.9,144.4 560.2,145.4 560.5,146.5 560.8,147.5 561.0,148.5 561.3,149.6 561.6,150.6 561.9,151.6 562.2,152.7 562.4,153.7 562.7,154.7 563.0,155.7 563.3,156.7 563.6,157.7 563.9,158.8 564.2,159.8 564.5,160.8 564.8,161.8 565.1,162.8 565.4,163.8 565.7,164.8 566.0,165.8 566.3,166.8 566.7,167.8 567.0,168.8 567.3,169.8 567.6,170.8 568.0,171.8 568.3,172.7 568.6,173.7 569.0,174.7 569.3,175.7 569.7,176.7 570.0,177.7 570.4,178.6 570.7,179.6 571.1,180.6 571.5,181.6 571.8,182.5 572.2,183.5 572.6,184.5 573.0,185.4 573.4,186.4 573.7,187.4 574.1,188.3 574.5,189.3 574.9,190.3 575.3,191.2 575.8,192.2 576.2,193.1 576.6,194.1 577.0,195.0 577.5,196.0 577.9,196.9 578.3,197.9 578.8,198.8 579.2,199.8 579.7,200.7 580.2,201.7 580.6,202.6 581.1,203.5 581.6,204.5 582.1,205.4 582.6,206.4 583.1,207.3 583.6,208.2 584.1,209.2 584.6,210.1 585.1,211.0 585.6,212.0 586.2,212.9 586.7,213.8 587.2,214.7 587.8,215.7 588.4,216.6 588.9,217.5 589.5,218.4 590.1,219.3 590.7,220.2 591.2,221.1 591.8,222.0 592.4,222.9 593.1,223.8 593.7,224.7 594.3,225.5 594.9,226.4 595.6,227.2 596.2,228.1 596.9,228.9 597.6,229.7 598.2,230.6 598.9,231.4 599.6,232.2 600.3,232.9 601.0,233.7 601.7,234.5 602.5,235.2 603.2,236.0 603.9,236.7 604.7,237.5 605.4,238.2 606.2,238.9 607.0,239.6 607.7,240.3 608.5,241.0 609.3,241.6 610.1,242.3 610.9,243.0 611.7,243.6 612.5,244.3 613.3,244.9 614.1,245.5 615.0,246.1 615.8,246.7 616.7,247.3 617.5,247.9 618.4,248.5 619.2,249.1 620.1,249.7 621.0,250.2 621.8,250.8 622.7,251.3 623.6,251.9 624.5,252.4 625.4,252.9 626.3,253.4 627.2,253.9 628.1,254.4 629.1,254.9 630.0,255.4 630.9,255.9 631.8,256.4 632.8,256.9 633.7,257.3 634.7,257.8 635.6,258.2 636.6,258.7 637.5,259.1 638.5,259.5 639.5,259.9 640.4,260.4 641.4,260.8 642.4,261.2 643.4,261.6 644.4,262.0 645.4,262.3 646.3,262.7 647.3,263.1 648.3,263.5 649.3,263.8 650.4,264.2 651.4,264.5 652.4,264.9 653.4,265.2 654.4,265.5 655.4,265.9 656.5,266.2 657.5,266.5 658.5,266.8 659.5,267.1 660.6,267.4 661.6,267.7 662.6,268.0 663.7,268.3 664.7,268.6 665.8,268.9 666.8,269.2 667.9,269.4 668.9,269.7 670.0,270.0 671.0,270.2 672.1,270.5 673.1,270.7 674.2,271.0 675.2,271.2 676.3,271.4 677.3,271.7 678.4,271.9 679.5,272.1 680.5,272.4 681.6,272.6 682.6,272.8 683.7,273.0 684.8,273.2 685.8,273.4 686.9,273.6 688.0,273.8 689.0,274.0 690.1,274.2 691.1,274.4 692.2,274.6 693.3,274.8 694.3,275.0 695.4,275.1 696.5,275.3 697.5,275.5 698.6,275.7 699.6,275.8 700.7,276.0 701.7,276.2 702.8,276.3 703.9,276.5 704.9,276.6 706.0,276.8 707.0,276.9 708.1,277.1 709.1,277.2 710.2,277.4 711.2,277.5 712.3,277.7 713.3,277.8 714.3,278.0 715.4,278.1 716.4,278.3 717.5,278.4 718.5,278.5 719.5,278.7 720.5,278.8 721.6,278.9 722.6,279.1 723.6,279.2 724.6,279.3 725.6,279.5 726.6,279.6 727.7,279.7 728.7,279.9 729.7,280.0 730.7,280.1 731.7,280.2 732.7,280.4 733.7,280.5 734.8,280.7 735.3,280.7" stroke="#1a9a1a" stroke-dasharray="10 5 2 5"/>
<path d="M305.3,280.5 306.1,279.9 306.9,279.2 307.7,278.5 308.5,277.8 309.2,277.1 310.0,276.4 310.8,275.7 311.5,275.0 312.3,274.2 313.0,273.5 313.8,272.8 314.5,272.1 315.2,271.3 316.0,270.6 316.7,269.9 317.4,269.1 318.1,268.4 318.8,267.6 319.5,266.9 320.2,266.1 320.9,265.4 321.6,264.6 322.3,263.8 323.0,263.1 323.7,262.3 324.4,261.5 325.1,260.8 325.7,260.0 326.4,259.2 327.1,258.4 327.7,257.6 328.4,256.8 329.0,256.0 329.7,255.2 330.3,254.4 330.9,253.6 331.6,252.8 332.2,252.0 332.8,251.2 333.5,250.4 334.1,249.5 334.7,248.7 335.3,247.9 335.9,247.1 336.5,246.2 337.1,245.4 337.7,244.6 338.3,243.7 338.9,242.9 339.5,242.0 340.1,241.2 340.7,240.3 341.2,239.5 341.8,238.6 342.4,237.8 342.9,236.9 343.5,236.0 344.1,235.2 344.6,234.3 345.2,233.4 345.7,232.6 346.3,231.7 346.8,230.8 347.3,229.9 347.9,229.0 348.4,228.2 348.9,227.3 349.5,226.4 350.0,225.5 350.5,224.6 351.0,223.7 351.5,222.8 352.0,221.9 352.6,221.0 353.1,220.1 353.6,219.2 354.1,218.3 354.5,217.4 355.0,216.5 355.5,215.5 356.0,214.6 356.5,213.7 357.0,212.8 357.5,211.9 357.9,210.9 358.4,210.0 358.9,209.1 359.3,208.1 359.8,207.2 360.2,206.3 360.7,205.3 361.2,204.4 361.6,203.5 362.1,202.5 362.5,201.6 362.9,200.6 363.4,199.7 363.8,198.8 364.3,197.8 364.7,196.9 365.1,195.9 365.5,195.0 366.0,194.0 366.4,193.0 366.8,192.1 367.2,191.1 367.6,190.2 368.1,189.2 368.5,188.3 368.9,187.3 369.3,186.3 369.7,185.4 370.1,184.4 370.5,183.4 370.9,182.5 371.3,181.5 371.7,180.5 372.0,179.5 372.4,178.6 372.8,177.6 373.2,176.6 373.6,175.7 373.9,174.7 374.3,173.7 374.7,172.7 375.1,171.7 375.4,170.8 375.8,169.8 376.2,168.8 376.5,167.8 376.9,166.8 377.3,165.8 377.6,164.9 378.0,163.9 378.3,162.9 378.7,161.9 379.0,160.9 379.4,159.9 379.7,158.9 380.1,157.9 380.4,157.0 380.7,156.0 381.1,155.0 381.4,154.0 381.7,153.0 382.1,152.0 382.4,151.0 382.7,150.0 383.1,149.0 383.4,148.0 383.7,147.0 384.0,146.1 384.4,145.1 384.7,144.1 385.0,143.1 385.3,142.1 385.6,141.1 386.0,140.1 386.3,139.1 386.6,138.1 386.9,137.1 387.2,136.1 387.5,135.1 387.8,134.1 388.1,133.1 388.4,132.1 388.7,131.1 389.0,130.1 389.3,129.2 389.6,128.2 389.9,127.2 390.2,126.2 390.5,125.2 390.8,124.2 391.1,123.2 391.4,122.2 391.7,121.2 392.0,120.2 392.3,119.2 392.5,118.2 392.8,117.3 393.1,116.3 393.4,115.3 393.7,114.3 394.0,113.3 394.2,112.3 394.5,111.3 394.8,110.3 395.1,109.4 395.4,108.4 395.6,107.4 395.9,106.4 396.2,105.4 396.5,104.4 396.7,103.5 397.0,102.5 397.3,101.5 397.6,100.5 397.8,99.5 398.1,98.6 398.4,97.6 398.6,96.6 398.9,95.6 399.2,94.7 399.5,93.7 399.7,92.7 400.0,91.8 400.3,90.8 400.5,89.8 400.8,88.8 401.1,87.9 401.3,86.9 401.6,85.9 401.9,85.0 402.1,84.0 402.4,83.0 402.6,82.0 402.9,81.1 403.2,80.1 403.4,79.1 403.7,78.1 404.0,77.2 404.2,76.2 404.5,75.2 404.8,74.2 405.0,73.2 405.3,72.2 405.6,71.2 405.8,70.3 406.1,69.3 406.4,68.3 406.6,67.3 406.9,66.3 407.2,65.3 407.4,64.3 407.7,63.3 408.0,62.3 408.3,61.3 408.5,60.2 408.8,59.2 409.1,58.2 409.3,57.2 409.6,56.2 409.9,55.1 410.2,54.1 410.4,53.1 410.7,52.0 411.0,51.0 411.3,49.9 411.6,48.9 411.8,47.8 412.1,46.8 412.4,45.7 412.7,44.7 413.0,43.6 413.3,42.5 413.6,41.4 413.8,40.3 414.1,39.3 414.4,38.2 414.7,37.1 415.0,36.0 415.3,34.9 415.6,33.8 415.9,32.7 416.2,31.5 416.6,30.5 416.9,29.4 417.2,28.3 417.6,27.2 417.9,26.2 418.3,25.1 418.7,24.1 419.1,23.1 419.5,22.1 419.9,21.1 420.4,20.2 420.8,19.3 421.3,18.4 421.9,17.5 422.5,16.5 423.2,15.7 423.9,14.8 424.6,14.1 425.3,13.4 426.1,12.7 426.9,12.1 427.8,11.6 428.7,11.0 429.8,10.6 430.8,10.3 431.8,10.1 432.9,9.9 433.9,9.9 434.9,10.0 436.0,10.2 437.0,10.5 438.0,11.0 439.0,11.5 439.9,12.0 440.7,12.6 441.6,13.2 442.4,13.9 443.2,14.7 444.0,15.4 444.7,16.1 445.4,16.9 446.1,17.7 446.8,18.6 447.4,19.4 448.1,20.3 448.7,21.2 449.4,22.2 450.0,23.1 450.6,24.1 451.2,25.0 451.8,26.0 452.4,27.0 453.0,28.0 453.5,29.0 454.1,30.0 454.6,30.9 455.1,31.9 455.6,32.9 456.1,33.9 456.6,34.9 457.1,35.8 457.5,36.8 458.0,37.8 458.4,38.7 458.9,39.7 459.3,40.6 459.7,41.6 460.1,42.6 460.5,43.5 460.9,44.5 461.3,45.4 461.7,46.4 462.1,47.3 462.5,48.3 462.9,49.2 463.2,50.2 463.6,51.1 464.0,52.1 464.3,53.0 464.7,54.0 465.0,54.9 465.4,55.9 465.8,56.8 466.1,57.8 466.5,58.7 466.9,59.7 467.2,60.6 467.6,61.6 468.0,62.5 468.3,63.5 468.7,64.4 469.1,65.4 469.5,66.4 469.8,67.3 470.2,68.3 470.6,69.2 471.0,70.2 471.3,71.1 471.7,72.1 472.1,73.1 472.5,74.0 472.9,75.0 473.3,75.9 473.7,76.9 474.1,77.9 474.5,78.8 474.9,79.8 475.3,80.7 475.7,81.7 476.1,82.6 476.5,83.6 476.9,84.6 477.3,85.5 477.7,86.5 478.1,87.4 478.5,88.4 479.0,89.3 479.4,90.3 479.8,91.2 480.2,92.2 480.7,93.1 481.1,94.1 481.5,95.0 482.0,96.0 482.4,96.9 482.9,97.9 483.3,98.8 483.8,99.8 484.2,100.7 484.7,101.6 485.1,102.6 485.6,103.5 486.1,104.4 486.5,105.4 487.0,106.3 487.5,107.2 488.0,108.2 488.4,109.1 488.9,110.0 489.4,110.9 489.9,111.8 490.4,112.8 490.9,113.7 491.4,114.6 491.9,115.5 492.4,116.4 492.9,117.3 493.5,118.2 494.0,119.1 494.5,120.0 495.0,120.9 495.6,121.8 496.1,122.7 496.7,123.6 497.2,124.4 497.7,125.3 498.3,126.2 498.9,127.1 499.4,128.0 500.0,128.8 500.6,129.7 501.1,130.6 501.7,131.4 502.3,132.3 502.9,133.1 503.5,134.0 504.1,134.8 504.7,135.7 505.3,136.5 505.9,137.3 506.5,138.2 507.1,139.0 507.7,139.8 508.3,140.7 509.0,141.5 509.6,142.3 510.2,143.1 510.9,143.9 511.5,144.7 512.2,145.6 512.8,146.4 513.5,147.2 514.1,148.0 514.8,148.7 515.5,149.5 516.1,150.3 516.8,151.1 517.5,151.9 518.2,152.7 518.9,153.4 519.5,154.2 520.2,155.0 520.9,155.7 521.6,156.5 522.3,157.2 523.0,158.0 523.8,158.7 524.5,159.5 525.2,160.2 525.9,161.0 526.6,161.7 527.4,162.4 528.1,163.2 528.8,163.9 529.6,164.6 530.3,165.3 531.1,166.0 531.8,166.7 532.6,167.4 533.3,168.1 534.1,168.8 534.8,169.5 535.6,170.2 536.4,170.9 537.2,171.6 537.9,172.3 538.7,172.9 539.5,173.6 540.3,174.3 541.1,174.9 541.9,175.6 542.7,176.2 543.5,176.9 544.3,177.5 545.1,178.2 545.9,178.8 546.7,179.5 547.5,180.1 548.3,180.7 549.2,181.3 550.0,182.0 550.8,182.6 551.6,183.2 552.5,183.8 553.3,184.4 554.2,185.0 555.0,185.6 555.9,186.2 556.7,186.8 557.6,187.4 558.4,187.9 559.3,188.5 560.1,189.1 561.0,189.6 561.9,190.2 562.7,190.8 563.6,191.3 564.5,191.9 565.4,192.4 566.3,193.0 567.1,193.5 568.0,194.0 568.9,194.5 569.8,195.1 570.7,195.6 571.6,196.1 572.5,196.6 573.4,197.1 574.3,197.6 575.2,198.1 576.1,198.6 577.1,199.1 578.0,199.6 578.9,200.1 579.8,200.5 580.8,201.0 581.7,201.5 582.6,201.9 583.5,202.4 584.5,202.8 585.4,203.3 586.4,203.7 587.3,204.2 588.3,204.6 589.2,205.0 590.2,205.5 591.1,205.9 592.1,206.3 593.0,206.7 594.0,207.1 595.0,207.5 595.9,207.9 596.9,208.3 597.9,208.7 598.8,209.1 599.8,209.4 600.8,209.8 601.8,210.2 602.7,210.5 603.7,210.9 604.7,211.3 605.7,211.6 606.7,211.9 607.7,212.3 608.7,212.6 609.7,212.9 610.7,213.3 611.7,213.6 612.7,213.9 613.7,214.2 617.2,218.5 619.3,223.0 620.6,228.9 620.8,229.9 620.9,230.9 621.1,231.9 621.2,232.9 621.4,233.9 621.5,234.9 621.7,235.9 621.8,236.9 622.0,238.0 622.1,239.0 622.2,240.0 622.4,241.0 622.5,242.1 622.7,243.1 622.8,244.1 622.9,245.1 623.1,246.1 623.2,247.1 623.3,248.1 623.5,249.1 623.6,250.1 623.7,251.1 623.9,252.1 624.0,253.1 624.2,254.2 624.3,255.2 624.5,256.2 624.6,257.2 624.8,258.2 624.9,259.3 625.1,260.3 625.2,261.3 625.4,262.3 625.6,263.4 625.7,264.4 625.9,265.4 626.1,266.4 626.2,267.4 626.4,268.4 626.6,269.4 626.8,270.4 627.0,271.3 627.2,272.3 627.4,273.3 627.6,274.3 627.8,275.3 628.0,276.3 628.2,277.3 628.5,278.3 628.7,279.3 629.0,280.3 629.2,281.3 629.5,282.2 629.7,283.2 630.0,284.2 630.3,285.2 630.6,286.1 630.9,287.1 631.2,288.0 631.5,289.0 631.8,290.0 632.1,291.0 632.5,291.9 632.9,292.9 633.2,293.9 633.6,294.8 634.0,295.8 634.4,296.7 634.8,297.6 635.3,298.6 635.7,299.5 636.2,300.4 636.6,301.3 637.1,302.1 637.6,303.1 638.1,304.0 638.7,304.8 639.2,305.7 639.8,306.6 640.4,307.4 641.0,308.2 641.6,309.0 642.2,309.8 642.9,310.6 643.5,311.4 644.2,312.1 644.9,312.9 645.6,313.6 646.3,314.3 647.0,315.0 647.8,315.7 648.5,316.3 649.3,317.0 650.1,317.6 650.9,318.2 651.7,318.9 652.5,319.5 653.4,320.0 654.2,320.6 655.1,321.2 655.9,321.7 656.8,322.3 657.7,322.8 658.6,323.3 659.5,323.8 660.4,324.3 661.4,324.7 662.3,325.2 663.2,325.6 664.1,326.0 665.0,326.5 665.9,326.9 666.9,327.3 667.8,327.6 668.8,328.0 669.7,328.4 670.7,328.7 671.7,329.1 672.6,329.4 673.6,329.7 674.6,330.1 675.6,330.4 676.6,330.7 677.6,331.0 678.6,331.2 679.5,331.5 680.5,331.8 681.5,332.0 682.5,332.3 683.4,332.5 684.4,332.7 685.4,333.0 686.4,333.2 687.4,333.4 688.4,333.6 689.4,333.8 690.4,334.0 691.4,334.2 692.4,334.4 693.4,334.5 694.4,334.7 695.4,334.9 696.4,335.0 697.4,335.2 698.4,335.3 699.4,335.5 700.4,335.6 701.4,335.7 702.4,335.9 703.4,336.0 704.4,336.1 705.4,336.2 706.4,336.4 707.4,336.5 708.4,336.6 709.4,336.7 710.5,336.8 711.5,336.9 712.5,337.0 713.6,337.1 714.6,337.1 715.6,337.2 716.7,337.3 717.7,337.4 718.7,337.5 719.7,337.5 720.7,337.6 721.7,337.7 722.7,337.7 723.8,337.8 724.8,337.9 725.8,337.9 726.8,338.0 727.9,338.0 728.9,338.1 729.9,338.1 730.9,338.2 731.9,338.2 732.9,338.3 733.9,338.3 734.9,338.4 735.4,338.4" stroke="#0010f0"/>
</g>
<path d="M617,40.80 H656" stroke="#0010f0" stroke-width="2.6" fill="none" stroke-dasharray="none"/><text x="660" y="46.90" class="lg">Mode 1</text><path d="M617,61.10 H656" stroke="#ff0000" stroke-width="2.6" fill="none" stroke-dasharray="10 5"/><text x="660" y="67.20" class="lg">Mode 2</text><path d="M617,81.40 H656" stroke="#1a9a1a" stroke-width="2.6" fill="none" stroke-dasharray="10 5 2 5"/><text x="660" y="87.50" class="lg">Mode 3</text><path d="M617,101.70 H656" stroke="#000000" stroke-width="2.6" fill="none" stroke-dasharray="5 2.36"/><text x="660" y="107.80" class="lg">Mode 4</text><path d="M617,122.00 H656" stroke="#f98020" stroke-width="2.6" fill="none" stroke-dasharray="10 5 10 5 2 5"/><text x="660" y="128.10" class="lg">Mode 5</text><path d="M617,142.30 H656" stroke="#7030a0" stroke-width="2.6" fill="none" stroke-dasharray="24 5 9 5 9 5"/><text x="660" y="148.40" class="lg">Mode 6</text>
</svg>
</body></html>
